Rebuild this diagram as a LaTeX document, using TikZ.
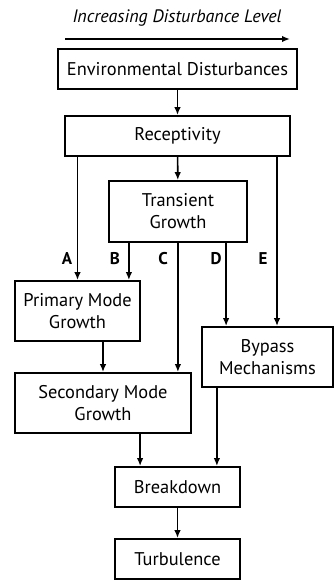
\documentclass[tikz,border=0pt]{standalone}
\usepackage{fontspec}
\setmainfont{PT Sans}
\usetikzlibrary{arrows.meta}

\begin{document}
\begin{tikzpicture}[x=1pt,y=-1pt,
  box/.style={draw=black,line width=1.8pt,inner sep=0pt,align=center,
    minimum height=40pt,font=\fontsize{18.4}{22}\selectfont},
  flow/.style={arrows=-{Latex[length=8pt,width=6.5pt]},line width=1.6pt,black},
  lbl/.style={text=black,font=\bfseries\fontsize{17}{20}\selectfont}]
\useasboundingbox (0,0) rectangle (335,580);

% heading and level arrow:
\path (177,18) node[text=black,font=\itshape\fontsize{18}{21}\selectfont] (head) {Increasing Disturbance Level};
\coordinate (lvlA) at (65,39);
\coordinate (lvlB) at (290,39);
\draw[flow] (lvlA) -- (lvlB);

% boxes:
\node[box,minimum width=239pt] (env) at (177.5,69) {Environmental Disturbances};
\node[box,minimum width=225pt] (rec) at (177.5,136) {Receptivity};
\node[box,minimum width=138pt,minimum height=61pt] (trans) at (178,211.5) {Transient\\Growth};
\node[box,minimum width=125pt,minimum height=60pt] (prim) at (77.5,311) {Primary Mode\\Growth};
\node[box,minimum width=176pt,minimum height=60pt] (sec) at (103,403) {Secondary Mode\\Growth};
\node[box,minimum width=131pt,minimum height=60pt] (byp) at (267.5,357) {Bypass\\Mechanisms};
\node[box,minimum width=125pt] (brk) at (177.5,487) {Breakdown};
\node[box,minimum width=125pt] (turb) at (177.5,559) {Turbulence};

% entry points on the boxes:
\coordinate (bIn) at ([xshift=-12pt]prim.north east);
\coordinate (cIn) at ([xshift=-14pt]sec.north east);
\coordinate (dIn) at ([xshift=25pt]byp.north west);
\coordinate (eIn) at ([xshift=9.5pt]byp.north);
\coordinate (fIn) at ([xshift=26pt]brk.north west);
\coordinate (gIn) at ([xshift=-24pt]brk.north east);

% paths:
\draw[flow] (env) -- (rec);
\draw[flow] (rec) -- (trans);
\draw[flow] (rec.south -| prim.north) -- (prim.north);
\draw[flow] (trans.south -| bIn) -- (bIn);
\draw[flow] (trans.south -| cIn) -- (cIn);
\draw[flow] (trans.south -| dIn) -- (dIn);
\draw[flow] (rec.south -| eIn) -- (eIn);
\draw[flow] (prim.south -| sec.north) -- (sec.north);
\draw[flow] (sec.south -| fIn) -- (fIn);
\draw[flow] (byp.south -| gIn) -- (gIn);
\draw[flow] (brk) -- (turb);

% path labels:
\node[lbl] (labA) at (67,259) {A};
\node[lbl] (labB) at (115,259) {B};
\node[lbl] (labC) at (163,259) {C};
\node[lbl] (labD) at (216,259) {D};
\node[lbl] (labE) at (263,259) {E};

\end{tikzpicture}
\end{document}
